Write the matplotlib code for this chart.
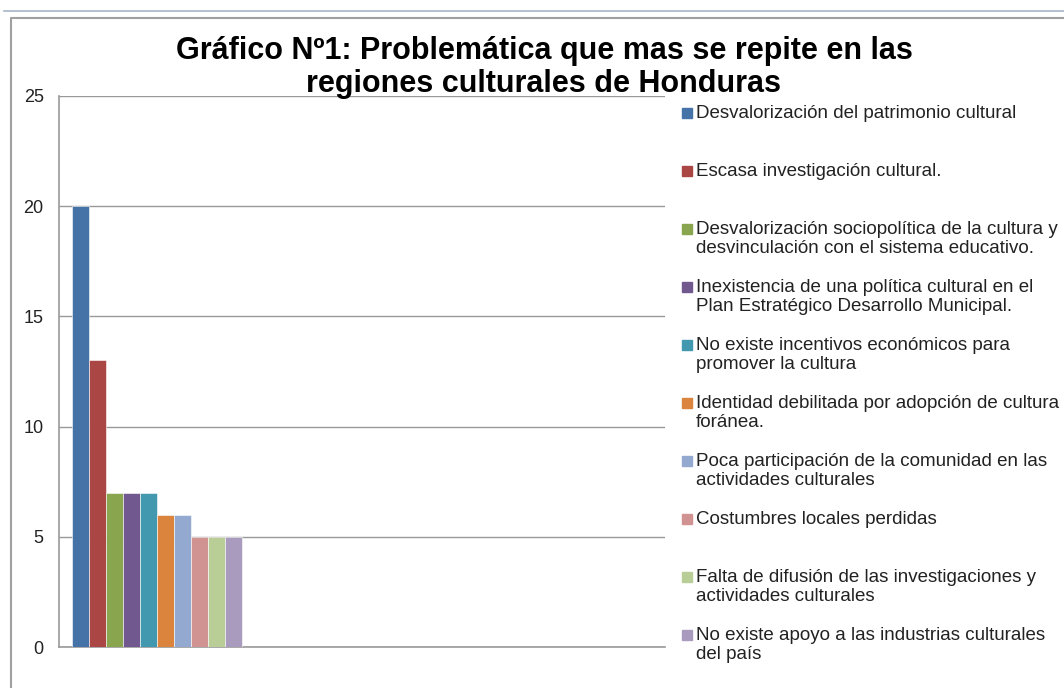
import matplotlib.pyplot as plt
import numpy as np
from matplotlib.lines import Line2D
from matplotlib.patches import Rectangle

plt.rcParams["font.family"] = ["Liberation Sans", "DejaVu Sans"]

# Datos del gráfico
categorias = [
    "Desvalorización del patrimonio cultural",
    "Escasa investigación cultural.",
    "Desvalorización sociopolítica de la cultura y\ndesvinculación con el sistema educativo.",
    "Inexistencia de una política cultural en el\nPlan Estratégico Desarrollo Municipal.",
    "No existe incentivos económicos para\npromover la cultura",
    "Identidad debilitada por adopción de cultura\nforánea.",
    "Poca participación de la comunidad en las\nactividades culturales",
    "Costumbres locales perdidas",
    "Falta de difusión de las investigaciones y\nactividades culturales",
    "No existe apoyo a las industrias culturales\ndel país",
]
valores = [20, 13, 7, 7, 7, 6, 6, 5, 5, 5]
colores = [
    "#4572A7", "#AA4643", "#89A54E", "#71588F", "#4198AF",
    "#DB843D", "#93A9CF", "#D19392", "#B9CD96", "#A99BBD",
]
yticks = [0, 5, 10, 15, 20, 25]

W, H = 1064, 688
fig = plt.figure(figsize=(W / 100, H / 100), dpi=100)

# marco del gráfico
fig.add_artist(Line2D([4 / W, 1], [1 - 11 / H] * 2, color="#A7B4C8", lw=1.2))
fig.add_artist(Line2D([11 / W, 11 / W, 1], [0, 1 - 18 / H, 1 - 18 / H],
                      color="#A0A0A0", lw=1.5))

ax = fig.add_axes([59 / W, 1 - 647 / H, 606 / W, 551 / H])
x = np.arange(len(valores))
ax.bar(x, valores, width=1, align="edge", color=colores,
       edgecolor="#FFFFFF", linewidth=0.4, zorder=3)
ax.set_xlim(-13 / 17, 606 / 17 - 13 / 17)
ax.set_ylim(0, 25)
ax.set_yticks(yticks)
ax.set_xticks([])
ax.tick_params(axis="y", length=0, pad=11, labelsize=13, labelcolor="#222222")
ax.yaxis.grid(True, color="#999999", lw=1)
for s in ["top", "right"]:
    ax.spines[s].set_visible(False)
for s in ["left", "bottom"]:
    ax.spines[s].set_color("#999999")
    ax.spines[s].set_linewidth(1.2)

fig.text(544 / W, 1 - 67.5 / H,
         "Gráfico Nº1: Problemática que mas se repite en las\nregiones culturales de Honduras",
         ha="center", va="center", fontsize=22, fontweight="bold",
         linespacing=1.17)

# leyenda manual: cada entrada con el mismo espacio
for i, (lab, col) in enumerate(zip(categorias, colores)):
    yc = 113 + i * 58.0
    fig.add_artist(Rectangle((682 / W, 1 - (yc + 5) / H), 10 / W, 10 / H,
                             color=col, transform=fig.transFigure))
    fig.text(696 / W, 1 - (yc - 8) / H, lab, ha="left", va="top",
             fontsize=13.5, color="#222222", linespacing=1.13)

fig.savefig("out.png", dpi=100)
